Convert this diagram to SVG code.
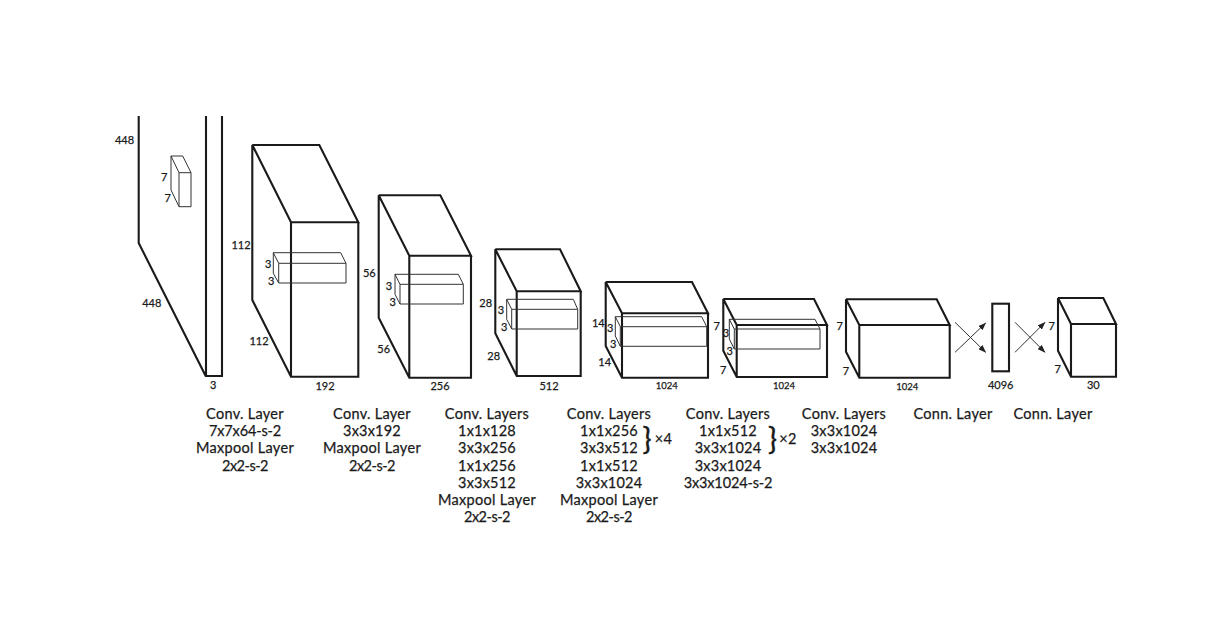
<svg xmlns="http://www.w3.org/2000/svg" width="1221" height="629" viewBox="0 0 1221 629">
<style>
.o{fill:none;stroke:#1a1a1a;stroke-width:2.1;stroke-linejoin:miter}
.i{fill:none;stroke:#333;stroke-width:1}
.a{fill:none;stroke:#333;stroke-width:1;marker-end:url(#ah)}
text{font-family:"Lato","Liberation Sans",sans-serif;fill:#1a1a1a;stroke:#1a1a1a;stroke-width:.25px;text-anchor:middle}
.c{font-size:14.5px;letter-spacing:.3px}
.n{font-size:14.5px;letter-spacing:.2px}
.m{font-size:14.5px;letter-spacing:-.15px}
.k{font-size:14.5px;letter-spacing:-.5px}
.d{font-size:11px}
.s{font-size:9.5px}
.b{font-size:30px;stroke-width:.4px}
</style>
<defs>
<marker id="ah" markerWidth="8" markerHeight="6" refX="7.5" refY="3" orient="auto" markerUnits="userSpaceOnUse"><path d="M0 0L8 3L0 6Z" fill="#222"/></marker>
</defs>
<rect width="1221" height="629" fill="#fff"/>
<g id="layer1">
<path class="o" d="M138.7 116V243L205.7 376M206 116V376H222V116"/>
<path class="i" d="M171 156H182.7L191 172.7H179L171 156V190L179 206.7H191V172.7M179 172.7V206.7"/>
<g class="d"><text x="124.5" y="144">448</text><text x="151.7" y="307">448</text><text x="213.3" y="389">3</text><text x="164.3" y="181">7</text><text x="167.7" y="202">7</text></g>
<text class="c" x="245" y="419">Conv. Layer</text><text class="m" x="245" y="436.2">7x7x64-s-2</text><text class="c" x="245" y="453.4">Maxpool Layer</text><text class="k" x="245" y="470.6">2x2-s-2</text>
</g>
<g id="layer2">
<path class="o" d="M252.3 145H319.3L358.3 222.3H291L252.3 145V300L291 376.7H358.3V222.3M291 222.3V376.7"/>
<path class="i" d="M273.3 252.7H340.7L346 263.3H278.7L273.3 252.7V273.3L278.7 283H346V263.3M278.7 263.3V283"/>
<g class="d"><text x="241" y="249">112</text><text x="259" y="345">112</text><text x="268.3" y="268">3</text><text x="271.3" y="285">3</text><text x="325" y="389.5">192</text></g>
<text class="c" x="372" y="419">Conv. Layer</text><text class="n" x="372" y="436.2">3x3x192</text><text class="c" x="372" y="453.4">Maxpool Layer</text><text class="k" x="372" y="470.6">2x2-s-2</text>
</g>
<g id="layer3">
<path class="o" d="M378.7 195.3H440.3L471 255.7H409.3L378.7 195.3V317.7L409.3 377.7H471V255.7M409.3 255.7V377.7"/>
<path class="i" d="M395 274.3H458.3L463.3 284.3H400L395 274.3V294.3L400 304H463.3V284.3M400 284.3V304"/>
<g class="d"><text x="369.3" y="277">56</text><text x="383.7" y="352.7">56</text><text x="389" y="290">3</text><text x="392.7" y="306.3">3</text><text x="440" y="389.5">256</text></g>
<text class="c" x="487" y="419">Conv. Layers</text><text class="n" x="487" y="436.2">1x1x128</text><text class="n" x="487" y="453.4">3x3x256</text><text class="n" x="487" y="470.6">1x1x256</text><text class="n" x="487" y="487.8">3x3x512</text><text class="c" x="487" y="505">Maxpool Layer</text><text class="k" x="487" y="522.2">2x2-s-2</text>
</g>
<g id="layer4">
<path class="o" d="M495.3 249.3H560L580.7 291.3H516.7L495.3 249.3V333.3L516.7 376H580.7V291.3M516.7 291.3V376"/>
<path class="i" d="M506.7 299.3H573.3L577.7 309.3H511.7L506.7 299.3V319.3L511.7 329H577.7V309.3M511.7 309.3V329"/>
<g class="d"><text x="485.7" y="307.3">28</text><text x="493.7" y="360">28</text><text x="501" y="314">3</text><text x="504.3" y="331.3">3</text><text x="549" y="389.5">512</text></g>
<text class="c" x="609" y="419">Conv. Layers</text><text class="n" x="609" y="436.2">1x1x256</text><text class="n" x="609" y="453.4">3x3x512</text><text class="n" x="609" y="470.6">1x1x512</text><text class="n" x="609" y="487.8">3x3x1024</text><text class="c" x="609" y="505">Maxpool Layer</text><text class="k" x="609" y="522.2">2x2-s-2</text>
<text class="b" x="647" y="450">}</text><text class="c" x="663.5" y="444">×4</text>
</g>
<g id="layer5">
<path class="o" d="M605.7 282H692L708 313.3H622L605.7 282V346L622 377.7H708V313.3M622 313.3V377.7"/>
<path class="i" d="M615.3 316.7H701.7L706.7 326.7H620.3L615.3 316.7V336L620.3 346.3H706.7V326.7M620.3 326.7V346.3"/>
<g class="d"><text x="598.3" y="326.7">14</text><text x="604.7" y="366">14</text><text x="610.3" y="331.7">3</text><text x="613.3" y="348">3</text></g>
<text class="s" x="666.7" y="389">1024</text>
<text class="c" x="728" y="419">Conv. Layers</text><text class="n" x="728" y="436.2">1x1x512</text><text class="n" x="728" y="453.4">3x3x1024</text><text class="n" x="728" y="470.6">3x3x1024</text><text class="m" x="728" y="487.8">3x3x1024-s-2</text>
<text class="b" x="772.5" y="450">}</text><text class="c" x="788" y="444">×2</text>
</g>
<g id="layer6">
<path class="o" d="M723.3 299H814L827 325H736.7L723.3 299V350.7L736.7 377H827V325M736.7 325V377"/>
<path class="i" d="M729.3 319.3H815L820 329H734.3L729.3 319.3V339L734.3 349H820V329M734.3 329V349"/>
<g class="d"><text x="716.7" y="330">7</text><text x="723.3" y="374">7</text><text x="726" y="336.7">3</text><text x="729.7" y="355">3</text></g>
<text class="s" x="784" y="389">1024</text>
<text class="c" x="844" y="419">Conv. Layers</text><text class="n" x="844" y="436.2">3x3x1024</text><text class="n" x="844" y="453.4">3x3x1024</text>
</g>
<g id="layer7">
<path class="o" d="M846 299.3H936.7L949.7 325H859.3L846 299.3V351.7L859.3 377.7H949.7V325M859.3 325V377.7"/>
<g class="d"><text x="839.7" y="330">7</text><text x="846" y="374.7">7</text></g>
<text class="s" x="907.3" y="390">1024</text>
</g>
<g id="layer8">
<rect class="o" x="992.3" y="303.7" width="16.7" height="67.6"/>
<text class="d" x="1000.7" y="389">4096</text>
<text class="c" x="953" y="419">Conn. Layer</text>
</g>
<g id="layer9">
<path class="o" d="M1058 298H1103.3L1116 324H1071L1058 298V350.7L1071 376.7H1116V324M1071 324V376.7"/>
<g class="d"><text x="1051.7" y="329.5">7</text><text x="1057.7" y="372.7">7</text><text x="1093.3" y="388.5">30</text></g>
<text class="c" x="1053" y="419">Conn. Layer</text>
</g>
<g id="connectors">
<path class="a" d="M955 322.3L985.7 352.3"/>
<path class="a" d="M955 352.3L985.7 323"/>
<path class="a" d="M1015 322.3L1045 352.3"/>
<path class="a" d="M1015 352.3L1045 322.3"/>
</g>
</svg>
